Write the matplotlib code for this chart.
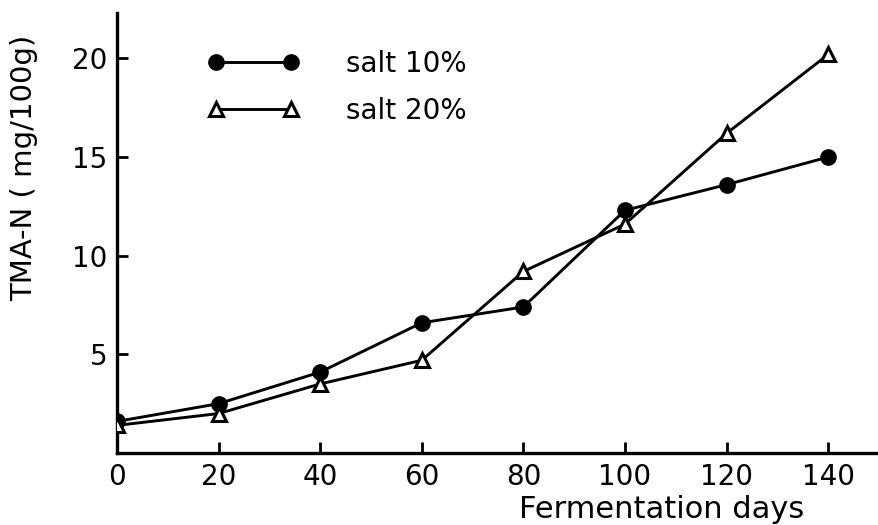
import matplotlib
matplotlib.use("Agg")
import matplotlib.pyplot as plt

days = [0, 20, 40, 60, 80, 100, 120, 140]
salt10 = [1.6, 2.5, 4.1, 6.6, 7.4, 12.3, 13.6, 15.0]
salt20 = [1.4, 2.0, 3.5, 4.7, 9.2, 11.6, 16.2, 20.2]
xticks = [0, 20, 40, 60, 80, 100, 120, 140]
yticks = [5, 10, 15, 20]

plt.rcParams['font.family'] = ['DejaVu Sans']

fig = plt.figure(figsize=(8.79, 5.25), dpi=100)
ax = fig.add_axes([117/879, 1 - 453/525, 1 - 117/879, (453 - 13)/525])

ax.plot(days, salt10, color='black', lw=2.1, marker='o', ms=11,
        mfc='black', mec='black', label='salt 10%', zorder=3)
ax.plot(days, salt20, color='black', lw=2.1, marker='^', ms=10,
        mfc='white', mec='black', mew=2.2, label='salt 20%', zorder=3)

ax.set_xlim(0, 150)
ax.set_ylim(0, 22.3)
ax.set_xticks(xticks)
ax.set_yticks(yticks)
ax.tick_params(direction='in', length=8, width=2, labelsize=20, pad=7)
for s in ['top', 'right']:
    ax.spines[s].set_visible(False)
for s in ['left', 'bottom']:
    ax.spines[s].set_linewidth(2.4)

ax.set_xlabel('Fermentation days', fontsize=22)
ax.xaxis.set_label_coords((662 - 117) / (879 - 117), -0.095)
ax.set_ylabel('TMA-N ( mg/100g)', fontsize=21)
ax.yaxis.set_label_coords(-0.104, (453 - 168) / 440)

leg = ax.legend(loc='upper left', bbox_to_anchor=(208/879, 1 - 50/525),
                bbox_transform=fig.transFigure, frameon=False, numpoints=2,
                handlelength=3.3, handletextpad=1.65, labelspacing=0.68,
                fontsize=20, borderaxespad=0, borderpad=0)

fig.savefig('out.png', dpi=100)
